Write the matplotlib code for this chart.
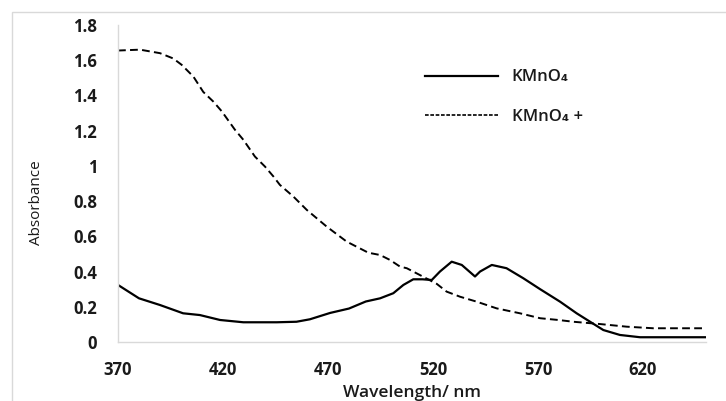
import matplotlib
matplotlib.use("Agg")
import matplotlib.pyplot as plt
from matplotlib.patches import Rectangle

# Data
wl_kmno4 = [370, 380, 390, 401, 409, 418.6, 429.7, 445.6, 455, 461.4, 471, 480, 488,
            494.8, 501.1, 505.9, 510.6, 515, 519.4, 523.3, 528.9, 533.7, 540, 542.4,
            548, 555, 563, 571, 580.5, 588.4, 594.8, 601.1, 609, 618.6, 650]
abs_kmno4 = [0.324, 0.248, 0.21, 0.163, 0.153, 0.125, 0.112, 0.112, 0.115, 0.129, 0.165,
             0.19, 0.23, 0.248, 0.277, 0.324, 0.356, 0.356, 0.352, 0.40, 0.456, 0.4375,
             0.372, 0.40, 0.4375, 0.419, 0.362, 0.30, 0.229, 0.163, 0.115, 0.068, 0.04,
             0.027, 0.027]

wl_mix = [370, 380.5, 390, 396.3, 400.3, 405.9, 410.6, 415.4, 419.4, 425.7, 429.7, 435.2,
          440, 444, 447.1, 453.5, 459.9, 469.4, 478.9, 489.2, 494.8, 499.5, 504.3, 507.5,
          513.8, 517, 521.8, 526.5, 532.9, 540.8, 550.3, 561.4, 571, 579.7, 586.8, 599.5,
          612.2, 624.9, 650]
abs_mix = [1.655, 1.66, 1.64, 1.61, 1.574, 1.507, 1.42, 1.365, 1.31, 1.205, 1.148, 1.053,
           0.996, 0.94, 0.892, 0.826, 0.75, 0.655, 0.57, 0.507, 0.494, 0.466, 0.428, 0.419,
           0.38, 0.36, 0.33, 0.286, 0.257, 0.229, 0.191, 0.163, 0.135, 0.125, 0.115, 0.102,
           0.087, 0.078, 0.078]

x_ticks = [370, 420, 470, 520, 570, 620]
y_ticks = [0, 0.2, 0.4, 0.6, 0.8, 1.0, 1.2, 1.4, 1.6, 1.8]
y_tick_labels = ["0", "0.2", "0.4", "0.6", "0.8", "1", "1.2", "1.4", "1.6", "1.8"]
series_labels = ["KMnO\u2084", "KMnO\u2084 +"]

FONT = ["Open Sans", "DejaVu Sans"]
plt.rcParams["font.family"] = FONT
TXT = "#1a1a1a"

fig = plt.figure(figsize=(7.26, 4.01), dpi=100)
ax = fig.add_axes([118 / 726, 1 - 342 / 401, (706 - 118) / 726, (342 - 25) / 401])

# chart border
fig.patches.append(Rectangle((12 / 726, -0.1), 1.2, 1 - 12 / 401 + 0.1,
                             transform=fig.transFigure, fill=False,
                             edgecolor="#d9d9d9", linewidth=1.0))

ax.plot(wl_kmno4, abs_kmno4, color="black", linewidth=1.6, label=series_labels[0])
ax.plot(wl_mix, abs_mix, color="black", linewidth=1.4, dashes=(4, 2.2),
        label=series_labels[1])

ax.set_xlim(370, 650)
ax.set_ylim(0, 1.8)
ax.set_xticks(x_ticks)
ax.set_xticklabels([str(t) for t in x_ticks], fontsize=12, fontweight="bold")
ax.set_yticks(y_ticks)
ax.set_yticklabels(y_tick_labels, fontsize=12, fontweight="bold")
ax.tick_params(axis="both", length=0, colors=TXT)
ax.tick_params(axis="y", pad=15)
ax.tick_params(axis="x", pad=14)

for s in ["top", "right"]:
    ax.spines[s].set_visible(False)
for s in ["left", "bottom"]:
    ax.spines[s].set_color("#d9d9d9")
    ax.spines[s].set_linewidth(1.0)

ax.set_xlabel("Wavelength/ nm", fontsize=12.5, fontweight="semibold", labelpad=4,
              color=TXT)
ax.set_ylabel("Absorbance", fontsize=11, color=TXT)
ax.yaxis.set_label_coords(-0.125, 0.44)

leg = ax.legend(loc="upper left", bbox_to_anchor=(0.522, 0.86), frameon=False,
                handlelength=4.4, handletextpad=0.8, labelspacing=1.39,
                borderpad=0, borderaxespad=0,
                prop={"weight": "semibold", "size": 12})
for t in leg.get_texts():
    t.set_color(TXT)
leg.get_lines()[1].set_dashes((2.2, 1.0))
leg.get_lines()[1].set_linewidth(1.2)

fig.savefig("out.png", dpi=100)
